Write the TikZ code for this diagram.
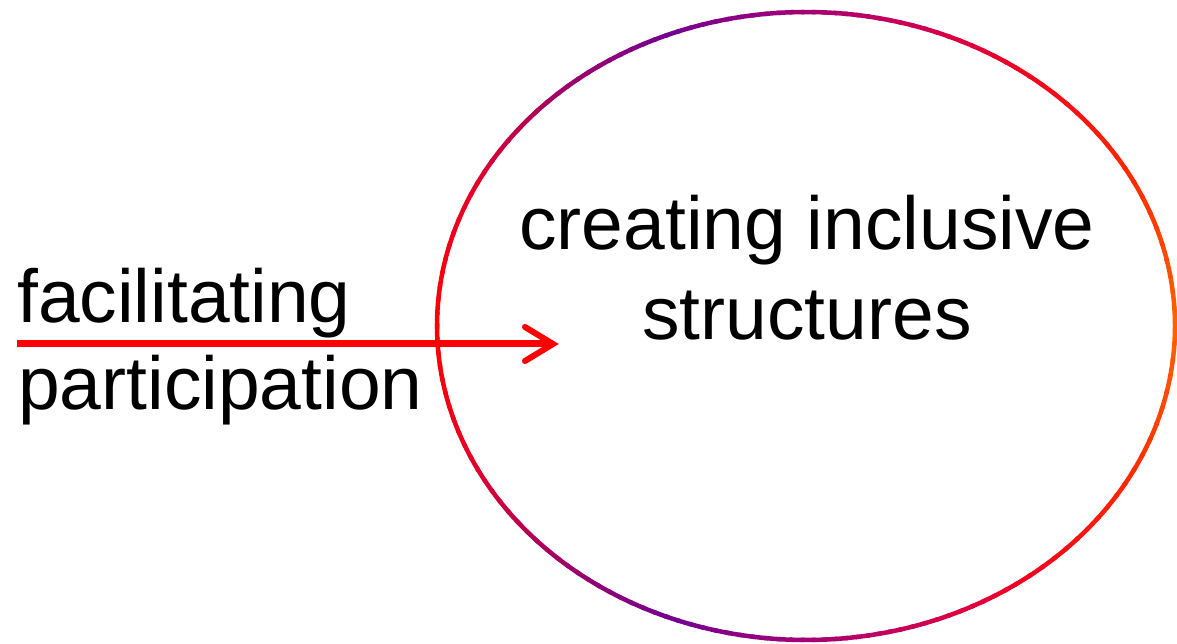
\documentclass[tikz,border=0pt]{standalone}
\usepackage{fontspec}
\setmainfont{Liberation Sans}
\begin{document}
\begin{tikzpicture}[
  lbl/.style={inner sep=0pt, font=\fontsize{75bp}{88bp}\selectfont},
  arrowline/.style={draw=red, line width=7bp},
  ring/.style={line width=4.5bp, line cap=round}
]
\useasboundingbox (0,0) rectangle (1177bp,644bp);
% colour stops along the ellipse (parametric angle)
\definecolor{cO}{RGB}{255,100,0}
\definecolor{cRO}{RGB}{255,40,0}
\definecolor{cR}{RGB}{240,0,35}
\definecolor{cM}{RGB}{200,0,90}
\definecolor{cP1}{RGB}{160,0,120}
\definecolor{cP}{RGB}{115,0,145}
\definecolor{cP2}{RGB}{160,0,100}
\definecolor{cC}{RGB}{230,0,40}
\definecolor{cRR}{RGB}{255,0,0}
\coordinate (c) at (806bp,318bp);
\foreach \a/\b/\ca/\cb in {0/30/cO/cRO,30/55/cRO/cR,55/75/cR/cM,75/92/cM/cP1,92/112/cP1/cP,112/132/cP/cP2,132/155/cP2/cC,155/180/cC/cRR}{
  \foreach \i in {0,...,9}{
    \pgfmathsetmacro\t{\i*10+5}
    \pgfmathsetmacro\s{\a+(\b-\a)*\i/10}
    \pgfmathsetmacro\e{\a+(\b-\a)*(\i+1)/10+0.4}
    \draw[ring, draw=\cb!\t!\ca] (c) ++(\s:369bp and 314bp) arc[start angle=\s, end angle=\e, x radius=369bp, y radius=314bp];
    \draw[ring, draw=\cb!\t!\ca] (c) ++(-\s:369bp and 314bp) arc[start angle=-\s, end angle=-\e, x radius=369bp, y radius=314bp];
  }
}
% texts
\node[lbl, anchor=base west] (fac) at (17bp,321bp) {facilitating};
\node[lbl, anchor=base west] (par) at (18bp,234bp) {participation};
\node[lbl, anchor=base] (cre) at (807bp,394bp) {creating inclusive};
\node[lbl, anchor=base] (str) at (807bp,304bp) {structures};
% arrow
\coordinate (s) at (17bp,300bp);
\coordinate (tip) at (553bp,300bp);
\draw[arrowline] (s) -- (tip);
\draw[arrowline, line width=6bp, line cap=round, line join=miter] ([shift={(-28bp,17bp)}]tip) -- (tip) -- ([shift={(-28bp,-17bp)}]tip);
\end{tikzpicture}
\end{document}
